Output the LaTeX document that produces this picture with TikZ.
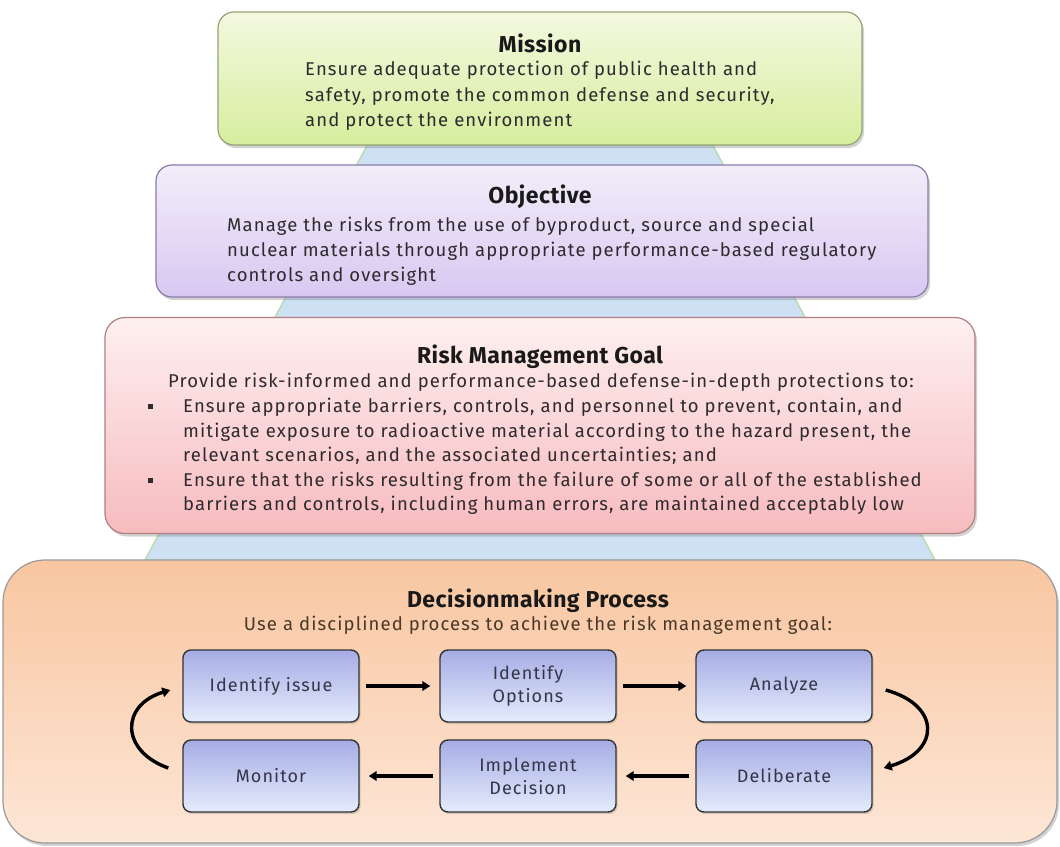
\documentclass[tikz,border=0pt]{standalone}
\usepackage{fontspec}
\setmainfont{Fira Sans}
\newfontfamily\trackfont[LetterSpace=6]{Fira Sans}
\newfontfamily\titlefont[LetterSpace=2]{Fira Sans}
\usetikzlibrary{arrows.meta,shadows}
\definecolor{trapfill}{HTML}{CDE0F4}
\definecolor{trapedge}{HTML}{BCDCB0}
\definecolor{misTop}{HTML}{F4F8E0}
\definecolor{misBot}{HTML}{D6EE9E}
\definecolor{misEdge}{HTML}{94A474}
\definecolor{objTop}{HTML}{F2EEF9}
\definecolor{objBot}{HTML}{D8C8F2}
\definecolor{objEdge}{HTML}{8C7CA8}
\definecolor{rskTop}{HTML}{FEF0F0}
\definecolor{rskBot}{HTML}{F7BBBF}
\definecolor{rskEdge}{HTML}{B08080}
\definecolor{decTop}{HTML}{F8C6A0}
\definecolor{decBot}{HTML}{FDE6D6}
\definecolor{decEdge}{HTML}{9A9A9A}
\definecolor{prTop}{HTML}{A6ACE4}
\definecolor{prBot}{HTML}{E4ECFC}
\definecolor{prText}{HTML}{353548}
\definecolor{bodyText}{HTML}{2E2A2E}
\definecolor{decText}{HTML}{4A3828}
\begin{document}
\begin{tikzpicture}[x=1pt,y=-1pt,
  bigbox/.style={rectangle, rounded corners=16pt, line width=1.2pt, inner sep=0pt,
    drop shadow={opacity=0.35, shadow xshift=2pt, shadow yshift=-3pt}},
  stepbox/.style={rectangle, rounded corners=8pt, draw=black!80, line width=1.4pt,
    top color=prTop, bottom color=prBot, minimum width=176pt, minimum height=72pt,
    inner sep=0pt, align=center, text=prText, font=\trackfont\fontsize{18}{23}\selectfont,
    drop shadow={opacity=0.3, shadow xshift=1.5pt, shadow yshift=-2pt}},
  ttl/.style={anchor=base, inner sep=0pt, font=\titlefont\fontsize{23}{26}\selectfont\bfseries, text=black!90},
  body/.style={anchor=base west, inner sep=0pt, font=\trackfont\fontsize{18.5}{22}\selectfont, text=bodyText},
  bodyc/.style={anchor=base, inner sep=0pt, font=\trackfont\fontsize{18.5}{22}\selectfont, text=bodyText},
  arr/.style={line width=3.4pt, -{Triangle[length=8pt,width=9.5pt]}}
]
\useasboundingbox (0,0) rectangle (1060,846);
\fill[white] (0,0) rectangle (1060,846);

% background trapezoid
\path[fill=trapfill, draw=trapedge, line width=1.5pt] (370,140) -- (710,140) -- (935,560) -- (145,560) -- cycle;

% boxes
\node[bigbox, draw=misEdge, top color=misTop, bottom color=misBot,
  minimum width=644pt, minimum height=133pt] (mission) at (540,78.5) {};
\node[bigbox, draw=objEdge, top color=objTop, bottom color=objBot,
  minimum width=772pt, minimum height=132pt] (objective) at (542,231) {};
\node[bigbox, draw=rskEdge, top color=rskTop, bottom color=rskBot, rounded corners=20pt,
  minimum width=870pt, minimum height=216pt] (risk) at (540,425.5) {};
\node[bigbox, draw=decEdge, top color=decTop, bottom color=decBot, rounded corners=42pt,
  minimum width=1054pt, minimum height=283pt] (decision) at (530,701.5) {};

% Mission text
\node[ttl] (mt) at (540,52) {Mission};
\node[body] (m1) at (305,75) {Ensure adequate protection of public health and};
\node[body] (m2) at (305,101) {safety, promote the common defense and security,};
\node[body] (m3) at (305,126) {and protect the environment};

% Objective text
\node[ttl] (ot) at (540,203) {Objective};
\node[body] (o1) at (227,231) {Manage the risks from the use of byproduct, source and special};
\node[body] (o2) at (227,256) {nuclear materials through appropriate performance-based regulatory};
\node[body] (o3) at (227,281) {controls and oversight};

% Risk text
\node[ttl] (rt) at (540,363) {Risk Management Goal};
\node[bodyc] (r0) at (541,387) {Provide risk-informed and performance-based defense-in-depth protections to:};
\node[body] (b1) at (148,412) {\rule[3pt]{5pt}{5.5pt}};
\node[body] (r1) at (183,412) {Ensure appropriate barriers, controls, and personnel to prevent, contain, and};
\node[body] (r2) at (183,437) {mitigate exposure to radioactive material according to the hazard present, the};
\node[body] (r3) at (183,461) {relevant scenarios, and the associated uncertainties; and};
\node[body] (b2) at (148,486) {\rule[3pt]{5pt}{5.5pt}};
\node[body] (r4) at (183,486) {Ensure that the risks resulting from the failure of some or all of the established};
\node[body] (r5) at (183,510) {barriers and controls, including human errors, are maintained acceptably low};

% Decision text
\node[ttl] (dt) at (538,607) {Decisionmaking Process};
\node[bodyc, text=decText] (d1) at (538,630) {Use a disciplined process to achieve the risk management goal:};

% process steps
\node[stepbox] (ii) at (271,686) {Identify issue};
\node[stepbox] (io) at (528,686) {Identify\\Options};
\node[stepbox] (an) at (784,686) {Analyze};
\node[stepbox] (mo) at (271,776) {Monitor};
\node[stepbox] (im) at (528,776) {Implement\\Decision};
\node[stepbox] (de) at (784,776) {Deliberate};

\draw[arr, shorten <=6pt, shorten >=9pt] (ii.east) -- (io.west);
\draw[arr, shorten <=6pt, shorten >=9pt] (io.east) -- (an.west);
\draw[arr, shorten <=6pt, shorten >=9pt] (de.west) -- (im.east);
\draw[arr, shorten <=6pt, shorten >=9pt] (im.west) -- (mo.east);

\draw[arr] ([xshift=-14pt,yshift=8pt]mo.west) .. controls ([xshift=-62pt,yshift=25pt]mo.west)
  and ([xshift=-62pt,yshift=-19pt]ii.west) .. ([xshift=-12pt,yshift=-4pt]ii.west);
\draw[arr] ([xshift=13pt,yshift=-4pt]an.east) .. controls ([xshift=68pt,yshift=-19pt]an.east)
  and ([xshift=68pt,yshift=25pt]de.east) .. ([xshift=11pt,yshift=8pt]de.east);
\end{tikzpicture}
\end{document}
